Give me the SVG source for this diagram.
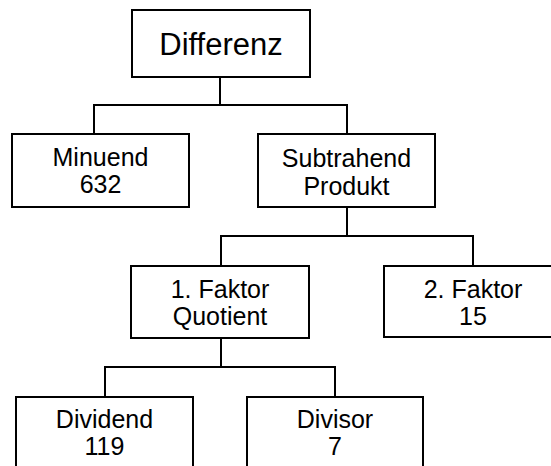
<svg xmlns="http://www.w3.org/2000/svg" width="551" height="466" viewBox="0 0 551 466">
<style>
.box{fill:#fff;stroke:#000;stroke-width:2}
.t{font-family:"Liberation Sans",Arial,sans-serif;font-size:25px;fill:#000;text-anchor:middle}
.big{font-size:31px}
.c{fill:none;stroke:#000;stroke-width:2}
</style>
<rect width="551" height="466" fill="#fff"/>
<g id="connectors">
<path class="c" d="M220,77 V105 M94,134 V105 H347 V134"/>
<path class="c" d="M347,207 V236 M221,266 V236 H473 V266"/>
<path class="c" d="M221,338 V367 M105,397 V367 H335 V397"/>
</g>
<g id="differenz">
<rect class="box" x="132" y="10" width="178" height="67"/>
<text class="t big" x="221" y="55">Differenz</text>
</g>
<g id="minuend">
<rect class="box" x="12" y="134" width="177" height="73"/>
<text class="t" x="100.5" y="166">Minuend</text>
<text class="t" x="100.5" y="193">632</text>
</g>
<g id="subtrahend">
<rect class="box" x="258" y="134" width="177" height="73"/>
<text class="t" x="346.5" y="167">Subtrahend</text>
<text class="t" x="346.5" y="195">Produkt</text>
</g>
<g id="faktor1">
<rect class="box" x="131" y="266" width="178" height="72"/>
<text class="t" x="220" y="298">1. Faktor</text>
<text class="t" x="220" y="325">Quotient</text>
</g>
<g id="faktor2">
<rect class="box" x="384" y="266" width="178" height="71"/>
<text class="t" x="473" y="298">2. Faktor</text>
<text class="t" x="473" y="325">15</text>
</g>
<g id="dividend">
<rect class="box" x="16" y="397" width="177" height="80"/>
<text class="t" x="104.5" y="428">Dividend</text>
<text class="t" x="104.5" y="455">119</text>
</g>
<g id="divisor">
<rect class="box" x="247" y="397" width="176" height="80"/>
<text class="t" x="335" y="428">Divisor</text>
<text class="t" x="335" y="455">7</text>
</g>
</svg>
